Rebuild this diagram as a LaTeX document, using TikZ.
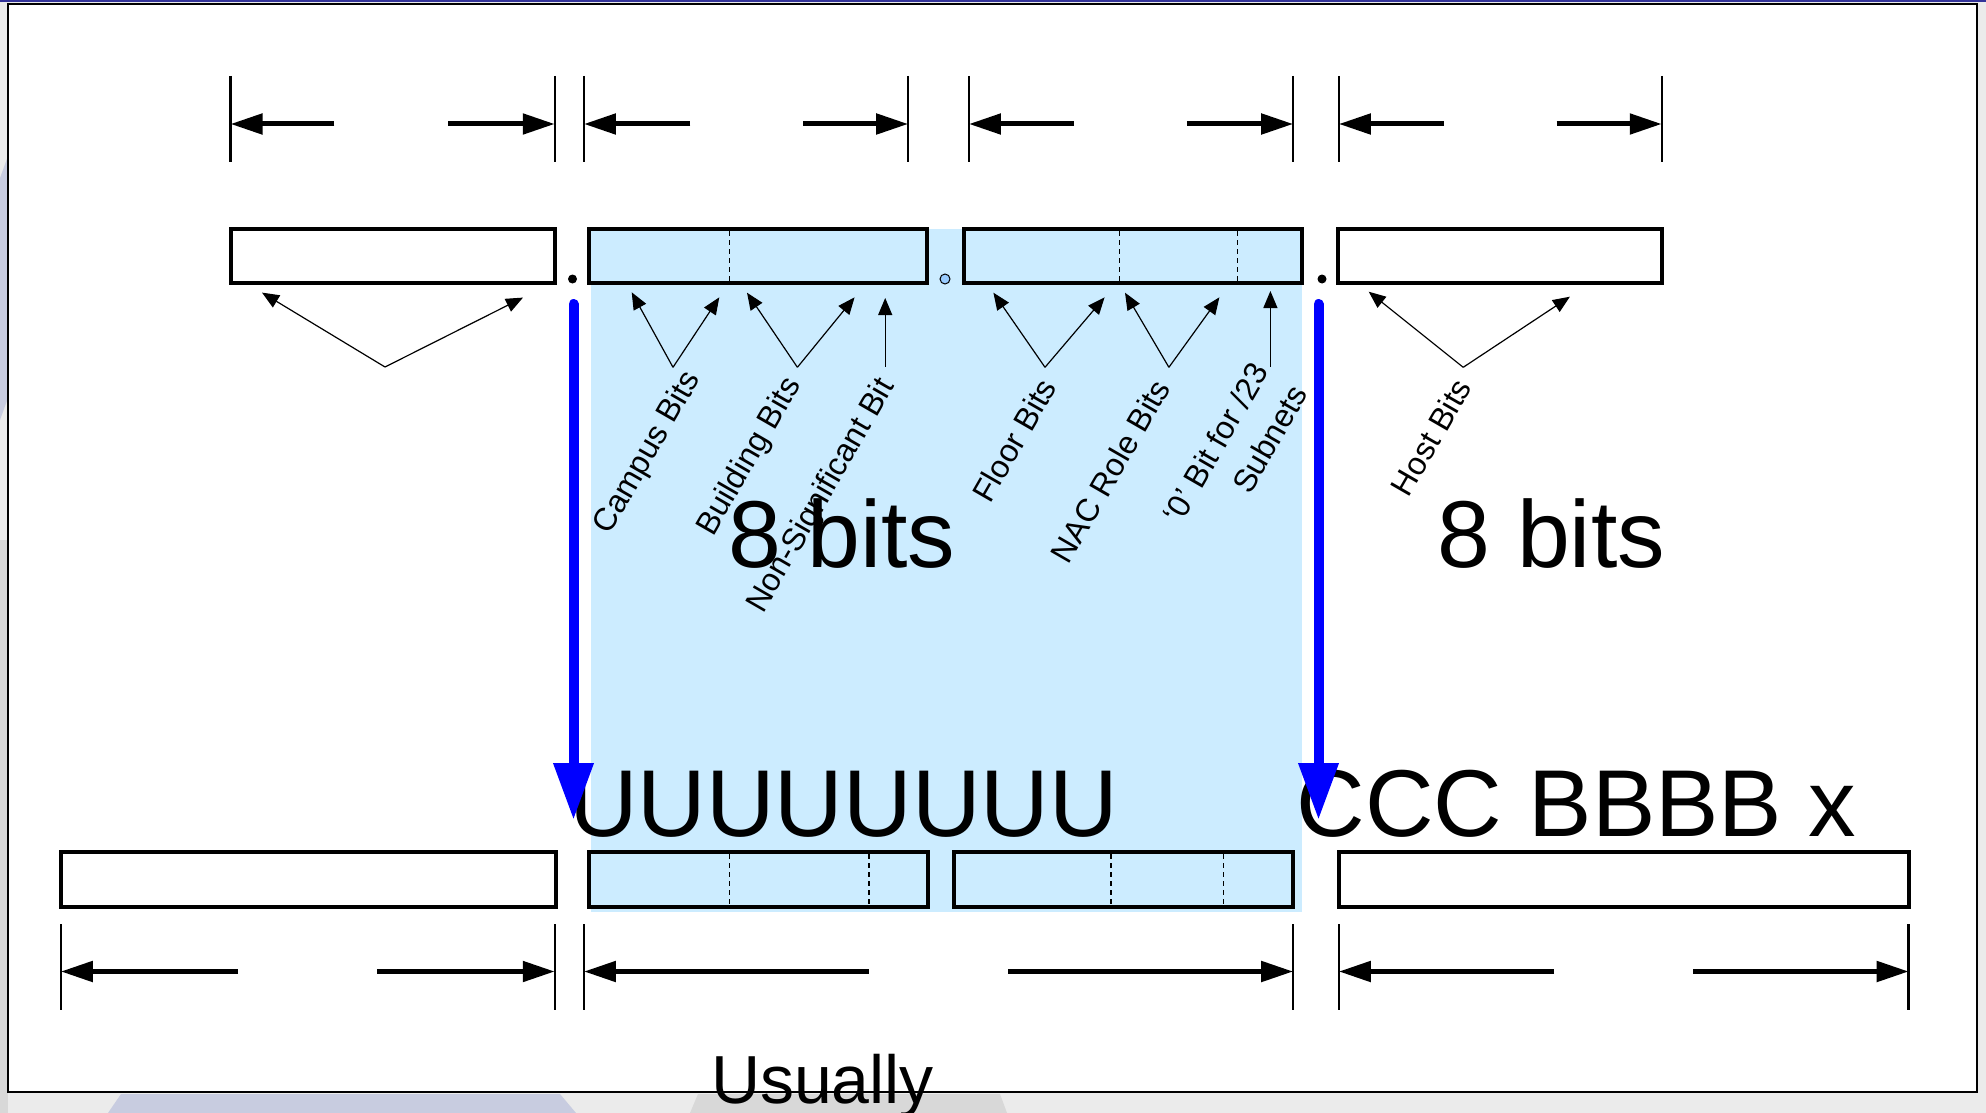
\documentclass[tikz,border=0pt]{standalone}
\usepackage{fontspec}
\setmainfont{Liberation Sans}
\usetikzlibrary{arrows.meta}
\definecolor{lblue}{RGB}{204,236,255}
\definecolor{navy}{RGB}{51,51,153}
\definecolor{bggrey}{RGB}{235,235,235}
\definecolor{lav}{RGB}{200,204,224}
\definecolor{dgrey}{RGB}{216,216,216}
\definecolor{dotblue}{RGB}{153,204,255}
\begin{document}
\begin{tikzpicture}[x=1pt,y=-1pt,
  box/.style={draw=black, line width=4pt, inner sep=0pt, outer sep=0pt, anchor=north west},
  tick/.style={line width=2.5pt},
  dim/.style={line width=5pt, -{Triangle[length=32pt,width=20pt]}},
  lbl/.style={font=\fontsize{32}{45}\selectfont, rotate=60, inner sep=0pt},
  ptr/.style={line width=1.2pt, -{Triangle[length=17pt,width=14pt]}},
  big/.style={font=\fontsize{95}{100}\selectfont, inner sep=0pt, anchor=base},
  bluearrow/.style={line width=10pt, blue, line cap=round, -{Triangle[length=57pt,width=38pt]}},
  dashline/.style={line width=1.2pt, dash pattern=on 5pt off 4pt}
]
\useasboundingbox (0,0) rectangle (1986,1113);
% slide background
\fill[bggrey] (0,0) rectangle (1986,1113);
\fill[lav] (0,178) -- (8,156) -- (8,398) -- (0,420) -- cycle;
\fill[dgrey] (0,540) rectangle (8,1113);
\fill[lav] (108,1113) -- (121,1094) -- (560,1094) -- (576,1113) -- cycle;
\fill[dgrey] (690,1113) -- (698,1094) -- (1000,1094) -- (1007,1113) -- cycle;
\fill[navy] (0,0) rectangle (1986,2.5);
\draw[fill=white, line width=2.5pt] (8,4) rectangle (1977,1092);
% light blue band
\fill[lblue] (591,229) rectangle (1302,912);

% top boxes
\node[box, minimum width=324pt, minimum height=54pt] (t1) at (231,229) {};
\node[box, minimum width=338pt, minimum height=54pt] (t2) at (589,229) {};
\node[box, minimum width=338pt, minimum height=54pt] (t3) at (964,229) {};
\node[box, minimum width=324pt, minimum height=54pt] (t4) at (1338,229) {};
\draw[dashline] (729.5,231) -- (729.5,281);
\draw[dashline] (1119.7,231) -- (1119.7,281);
\draw[dashline] (1237.5,231) -- (1237.5,281);
% dots
\fill (572.5,279) circle (4.5pt);
\fill (1322,279) circle (4.5pt);
\draw[fill=dotblue, line width=1pt] (945,279) circle (5pt);

% bottom boxes
\node[box, minimum width=495pt, minimum height=55pt] (b1) at (61,852) {};
\node[box, minimum width=339pt, minimum height=55pt] (b2) at (589,852) {};
\node[box, minimum width=339pt, minimum height=55pt] (b3) at (954,852) {};
\node[box, minimum width=570pt, minimum height=55pt] (b4) at (1339,852) {};
\draw[dashline] (729.6,854) -- (729.6,905);
\draw[dashline] (869,854) -- (869,905);
\draw[dashline] (1111,854) -- (1111,905);
\draw[dashline] (1223.5,854) -- (1223.5,905);

% top dimension lines
\foreach \i/\l/\r/\sa/\sb in {1/230.5/554.8/334.4/448.4, 2/583.9/908.2/690.3/803, 3/968.9/1293.2/1074/1186.8, 4/1338.8/1661.8/1444/1556.6}{
  \coordinate (tl\i) at (\l,124);
  \coordinate (tr\i) at (\r,124);
  \coordinate (tsa\i) at (\sa,124);
  \coordinate (tsb\i) at (\sb,124);
  \draw[tick] (\l,76) -- (\l,162);
  \draw[tick] (\r,76) -- (\r,162);
  \draw[dim] (tsa\i) -- (tl\i);
  \draw[dim] (tsb\i) -- (tr\i);
}
% bottom dimension lines
\foreach \i/\l/\r/\sa/\sb in {1/60.8/554.8/238/377.4, 2/583.9/1293.2/868.9/1008.2, 3/1338.8/1908.7/1554/1693.4}{
  \coordinate (bl\i) at (\l,971.5);
  \coordinate (br\i) at (\r,971.5);
  \coordinate (bsa\i) at (\sa,971.5);
  \coordinate (bsb\i) at (\sb,971.5);
  \draw[tick] (\l,924) -- (\l,1010);
  \draw[tick] (\r,924) -- (\r,1010);
  \draw[dim] (bsa\i) -- (bl\i);
  \draw[dim] (bsb\i) -- (br\i);
}

% pointer arrows
\coordinate (v1) at (385,367);
\draw[ptr] (v1) -- (262,292.6);
\draw[ptr] (v1) -- (523,297.6);
\coordinate (vc) at (673,367.3);
\draw[ptr] (vc) -- (631.7,292.3);
\draw[ptr] (vc) -- (719.3,297.3);
\coordinate (vb) at (797.4,367.3);
\draw[ptr] (vb) -- (747,292.7);
\draw[ptr] (vb) -- (854.6,297.3);
\coordinate (vn) at (885.2,366.7);
\draw[ptr] (vn) -- (885.2,298);
\coordinate (vf) at (1045,367.3);
\draw[ptr] (vf) -- (993.4,292.7);
\draw[ptr] (vf) -- (1104.6,297.3);
\coordinate (va) at (1168.9,367.3);
\draw[ptr] (va) -- (1125,292.7);
\draw[ptr] (va) -- (1219.4,297.3);
\coordinate (vz) at (1270.4,366.7);
\draw[ptr] (vz) -- (1270.4,291);
\coordinate (vh) at (1463.2,367.3);
\draw[ptr] (vh) -- (1368.7,291.7);
\draw[ptr] (vh) -- (1569.9,296.7);

% rotated labels
\node[lbl] (lc) at (648,453) {Campus Bits};
\node[lbl] (lb) at (750,457) {Building Bits};
\node[lbl] (ln) at (822,496) {Non-Significant Bit};
\node[lbl] (lf) at (1014,440) {Floor Bits};
\node[lbl] (la) at (1110,471) {NAC Role Bits};
\node[lbl, align=right] (lz) at (1235,454) {‘0’ Bit for /23\\Subnets};
\node[lbl] (lh) at (1431,437) {Host Bits};

% big texts
\node[big] (e1) at (842,567) {8 bits};
\node[big] (e2) at (1551.5,567) {8 bits};
\node[big] (uu) at (843.5,836) {UUUUUUUU};
\node[big] (cb) at (1576.5,836) {CCC BBBB x};

% blue arrows
\coordinate (ba1) at (573.5,304);
\coordinate (ba2) at (573.5,820);
\coordinate (bb1) at (1318.5,304);
\coordinate (bb2) at (1318.5,820);
\draw[bluearrow] (ba1) -- (ba2);
\draw[bluearrow] (bb1) -- (bb2);

\node[font=\fontsize{68}{72}\selectfont, inner sep=0pt, anchor=base] (us) at (822.5,1103) {Usually};
\end{tikzpicture}
\end{document}
